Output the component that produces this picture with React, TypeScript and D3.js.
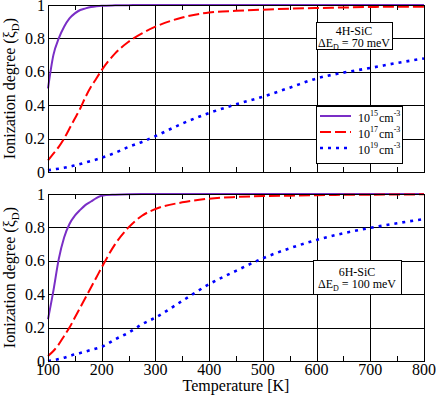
import * as d3 from "d3";

// temperatures (K) shared by every series
const temps = [100, 110, 120, 130, 140, 150, 160, 170, 180, 190, 200, 225, 250, 275, 300, 350, 400, 450, 500, 550, 600, 650, 700, 750, 800];

// 4H-SiC, dE_D = 70 meV
const sic4h_1e15 = [0.5, 0.7, 0.8, 0.87, 0.92, 0.95, 0.97, 0.98, 0.988, 0.993, 0.996, 0.998, 0.999, 1, 1, 1, 1, 1, 1, 1, 1, 1, 1, 1, 1];
const sic4h_1e17 = [0.07, 0.11, 0.15, 0.2, 0.26, 0.32, 0.38, 0.45, 0.51, 0.56, 0.61, 0.71, 0.78, 0.83, 0.87, 0.925, 0.955, 0.965, 0.972, 0.978, 0.982, 0.985, 0.988, 0.99, 0.99];
const sic4h_1e19 = [0.01, 0.015, 0.02, 0.025, 0.032, 0.04, 0.048, 0.057, 0.066, 0.075, 0.085, 0.115, 0.15, 0.18, 0.215, 0.29, 0.353, 0.405, 0.451, 0.505, 0.56, 0.595, 0.623, 0.653, 0.68];

// 6H-SiC, dE_D = 100 meV
const sic6h_1e15 = [0.25, 0.42, 0.61, 0.74, 0.82, 0.87, 0.905, 0.935, 0.955, 0.975, 0.99, 0.996, 0.999, 1, 1, 1, 1, 1, 1, 1, 1, 1, 1, 1, 1];
const sic6h_1e17 = [0.03, 0.06, 0.1, 0.15, 0.2, 0.26, 0.32, 0.38, 0.44, 0.5, 0.56, 0.7, 0.8, 0.87, 0.91, 0.95, 0.972, 0.982, 0.988, 0.99, 0.993, 0.995, 0.996, 0.997, 0.998];
const sic6h_1e19 = [0, 0.005, 0.012, 0.02, 0.03, 0.04, 0.048, 0.057, 0.066, 0.075, 0.085, 0.13, 0.17, 0.22, 0.26, 0.36, 0.46, 0.54, 0.615, 0.675, 0.725, 0.765, 0.797, 0.825, 0.85];

const xTicks = [100, 200, 300, 400, 500, 600, 700, 800];
const yTicks = [0, 0.2, 0.4, 0.6, 0.8, 1];
const legendExponents = ["15", "17", "19"];

const W = 436;
const H = 396;
const left = 48;
const right = 424;
const font = "'Liberation Serif', 'Times New Roman', serif";

const styles = [
  { color: "#7a2ec6", dash: "none", width: 2 },
  { color: "#ff0000", dash: "11,4", width: 2 },
  { color: "#0000ff", dash: "3,5", width: 2.6 },
];

const x = d3.scaleLinear().domain([100, 800]).range([left, right]);

function Panel({ top, bottom, series }: { top: number; bottom: number; series: number[][] }) {
  const y = d3.scaleLinear().domain([0, 1]).range([bottom, top]);
  const line = d3
    .line<number>()
    .x((_, i) => x(temps[i]))
    .y((d) => y(d))
    .curve(d3.curveMonotoneX);
  const minor = d3.range(150, 800, 100);
  return (
    <g>
      {xTicks.slice(1, -1).map((t) => (
        <line key={"gx" + t} x1={Math.round(x(t)) + 0.5} x2={Math.round(x(t)) + 0.5} y1={top} y2={bottom} stroke="#000" />
      ))}
      {yTicks.slice(1, -1).map((t) => (
        <line key={"gy" + t} x1={left} x2={right} y1={Math.round(y(t)) + 0.5} y2={Math.round(y(t)) + 0.5} stroke="#000" />
      ))}
      {minor.map((t) => (
        <g key={"m" + t}>
          <line x1={Math.round(x(t)) + 0.5} x2={Math.round(x(t)) + 0.5} y1={top} y2={top + 5} stroke="#000" />
          <line x1={Math.round(x(t)) + 0.5} x2={Math.round(x(t)) + 0.5} y1={bottom - 5} y2={bottom} stroke="#000" />
        </g>
      ))}
      {yTicks.map((t) => (
        <text key={"yl" + t} x={45} y={y(t)} dy="0.35em" textAnchor="end" fontSize={16} fontFamily={font}>
          {t === 0 || t === 1 ? String(t) : t.toFixed(1)}
        </text>
      ))}
      {series.map((s, i) => (
        <path
          key={"s" + i}
          d={line(s) ?? ""}
          fill="none"
          stroke={styles[i].color}
          strokeWidth={styles[i].width}
          strokeDasharray={styles[i].dash}
        />
      ))}
      <rect x={left + 0.5} y={top + 0.5} width={right - left} height={bottom - top} fill="none" stroke="#000" />
      <text transform={`translate(15,${(top + bottom) / 2}) rotate(-90)`} textAnchor="middle" fontSize={16} fontFamily={font}>
        Ionization degree (ξ<tspan dy="4" fontSize={11}>D</tspan>
        <tspan dy="-4">)</tspan>
      </text>
    </g>
  );
}

function Annotation({ x0, y0, w, h, lines }: { x0: number; y0: number; w: number; h: number; lines: string[] }) {
  const cx = x0 + w / 2;
  const pad = (h - 24) / 2;
  return (
    <g fontFamily={font} fontSize={12}>
      <rect x={x0 + 0.5} y={y0 + 0.5} width={w} height={h} fill="#fff" stroke="#000" />
      <text x={cx} y={y0 + pad + 11} textAnchor="middle">{lines[0]}</text>
      <text x={cx} y={y0 + pad + 23} textAnchor="middle">
        ΔE<tspan dy="3" fontSize={8}>D</tspan>
        <tspan dy="-3">{" = " + lines[1]}</tspan>
      </text>
    </g>
  );
}

export default function App() {
  const topT = 5;
  const topB = 172;
  const botT = 194;
  const botB = 361;
  const yTop = d3.scaleLinear().domain([0, 1]).range([topB, topT]);
  return (
    <svg width={W} height={H} style={{ position: "absolute", left: 0, top: 0, background: "#fff" }}>
      <rect width={W} height={H} fill="#fff" />
      <Panel top={topT} bottom={topB} series={[sic4h_1e15, sic4h_1e17, sic4h_1e19]} />
      <Panel top={botT} bottom={botB} series={[sic6h_1e15, sic6h_1e17, sic6h_1e19]} />
      <Annotation x0={316} y0={22} w={76} h={27} lines={["4H-SiC", "70 meV"]} />
      <Annotation x0={313} y0={260} w={88} h={34} lines={["6H-SiC", "100 meV"]} />
      {/* legend */}
      <g fontFamily={font} fontSize={12}>
        <rect x={316.5} y={106.5} width={86} height={57} fill="#fff" stroke="#000" />
        {legendExponents.map((e, i) => {
          const ly = Math.round(yTop(0.335 - i * 0.095));
          return (
            <g key={e}>
              <line x1={320} x2={351} y1={ly} y2={ly} stroke={styles[i].color} strokeWidth={styles[i].width} strokeDasharray={styles[i].dash} />
              <text x={358} y={ly + 6}>
                10<tspan dy="-6" fontSize={8}>{e}</tspan>
                <tspan dy="6" dx="1">cm</tspan>
                <tspan dy="-6" fontSize={8}>-3</tspan>
              </text>
            </g>
          );
        })}
      </g>
      {xTicks.map((t) => (
        <text key={"xl" + t} x={x(t)} y={375} textAnchor="middle" fontSize={16} fontFamily={font}>
          {t}
        </text>
      ))}
      <text x={236} y={391} textAnchor="middle" fontSize={16} fontFamily={font}>
        Temperature [K]
      </text>
    </svg>
  );
}
